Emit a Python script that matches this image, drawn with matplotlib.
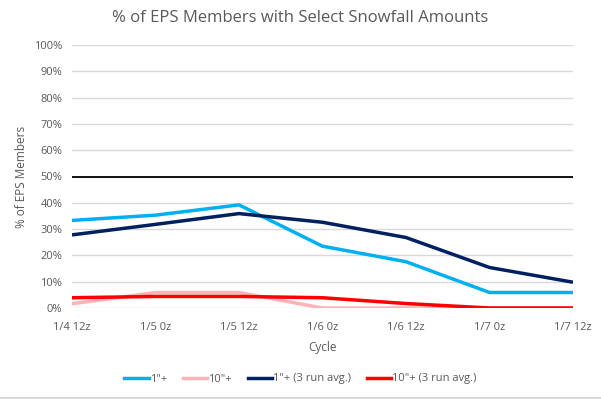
import numpy as np
import matplotlib
matplotlib.use("Agg")
import matplotlib.pyplot as plt
from matplotlib.ticker import PercentFormatter
from matplotlib.lines import Line2D

plt.rcParams['font.family'] = ['Open Sans', 'DejaVu Sans']

cycles = ['1/4 12z', '1/5 0z', '1/5 12z', '1/6 0z', '1/6 12z', '1/7 0z', '1/7 12z']
one_inch = [33.3, 35.3, 39.2, 23.5, 17.6, 5.9, 5.9]
ten_inch = [1.6, 5.9, 5.9, 0.0, 0.0, 0.0, 0.0]
one_inch_avg = [27.8, 31.8, 35.9, 32.6, 26.8, 15.4, 9.8]
ten_inch_avg = [3.9, 4.4, 4.4, 3.9, 1.7, 0.0, 0.0]

series = [
    ('1"+', one_inch, '#00b0f0'),
    ('10"+', ten_inch, '#ffb3b8'),
    ('1"+ (3 run avg.)', one_inch_avg, '#002060'),
    ('10"+ (3 run avg.)', ten_inch_avg, '#ff0000'),
]

txt = '#595959'

fig = plt.figure(figsize=(6.01, 3.99), dpi=100)
ax = fig.add_axes([72 / 601, 1 - 308 / 399, (573 - 72) / 601, (308 - 45) / 399])

x = np.arange(len(cycles))
for name, vals, col in series:
    ax.plot(x, vals, color=col, lw=2.5, label=name, solid_capstyle='butt', zorder=3)

ax.axhline(50, color='black', lw=1.3, zorder=2)

ax.set_xlim(0, len(cycles) - 1)
ax.set_ylim(0, 100)
ax.set_yticks(np.arange(0, 101, 10))
ax.yaxis.set_major_formatter(PercentFormatter(decimals=0))
ax.set_xticks(x)
ax.set_xticklabels(cycles)
ax.grid(axis='y', color='#d9d9d9', lw=1, zorder=0)
for s in ax.spines.values():
    s.set_visible(False)
ax.tick_params(length=0, labelsize=8, colors=txt, pad=7)
ax.tick_params(axis='x', pad=10)

ax.set_xlabel('Cycle', fontsize=8.5, color=txt, labelpad=6)
ax.set_ylabel('% of EPS Members', fontsize=8.5, color=txt, labelpad=4)
fig.text(0.5, 1 - 18 / 399, '% of EPS Members with Select Snowfall Amounts',
         ha='center', va='center', fontsize=12, color=txt)

handles = [Line2D([], [], color=c, lw=2.5) for _, _, c in series]
fig.legend(handles, [n for n, _, _ in series], loc='center', ncol=4,
           bbox_to_anchor=(0.5, 1 - 379 / 399), frameon=False, fontsize=8,
           labelcolor=txt, handlelength=2.2, handletextpad=0.1, columnspacing=1.4)

fig.add_artist(Line2D([0, 1], [0.002, 0.002], color='#d9d9d9', lw=1.5,
                      transform=fig.transFigure))

fig.savefig('out.png', dpi=100)
